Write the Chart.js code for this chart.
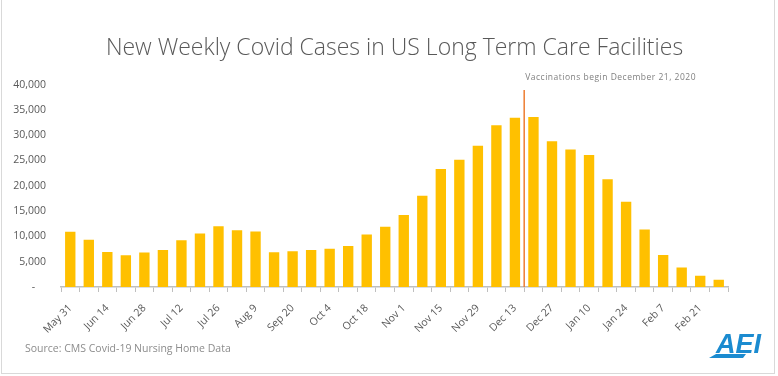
<!DOCTYPE html>
<html>
<head>
<meta charset="utf-8">
<script src="https://cdn.jsdelivr.net/npm/chart.js@4.4.1/dist/chart.umd.min.js"></script>
<style>
  html, body { margin: 0; padding: 0; background: #fff; }
  #wrap { position: relative; width: 778px; height: 376px; }
</style>
</head>
<body>
<div id="wrap"><canvas id="c" width="778" height="376"></canvas></div>
<script>
const titleText = 'New Weekly Covid Cases in US Long Term Care Facilities';
const sourceText = 'Source: CMS Covid-19 Nursing Home Data';
const noteText = 'Vaccinations begin December 21, 2020';
const weeks = ['May 31','Jun 7','Jun 14','Jun 21','Jun 28','Jul 5','Jul 12','Jul 19','Jul 26','Aug 2','Aug 9','Sep 13',
  'Sep 20','Sep 27','Oct 4','Oct 11','Oct 18','Oct 25','Nov 1','Nov 8','Nov 15','Nov 22','Nov 29','Dec 6',
  'Dec 13','Dec 20','Dec 27','Jan 3','Jan 10','Jan 17','Jan 24','Jan 31','Feb 7','Feb 14','Feb 21','Feb 28'];
const newCases = [10900,9350,6920,6270,6800,7320,9220,10590,12020,11240,10980,6860,
  7060,7320,7580,8100,10390,11900,14250,18040,23330,25160,27900,31960,
  33470,33590,28820,27190,26080,21310,16860,11370,6340,3860,2220,1430];
const yTicks = [0,5000,10000,15000,20000,25000,30000,35000,40000];
const vaccineAfter = 'Dec 13';

const extras = {
  id: 'extras',
  afterDraw(chart) {
    const ctx = chart.ctx;
    const x = chart.scales.x, y = chart.scales.y;
    ctx.save();
    const i = weeks.indexOf(vaccineAfter);
    const lx = (x.getPixelForValue(i) + x.getPixelForValue(i + 1)) / 2;
    ctx.strokeStyle = '#ED7D31';
    ctx.lineWidth = 1.5;
    ctx.beginPath();
    ctx.moveTo(lx, 90);
    ctx.lineTo(lx, y.getPixelForValue(0));
    ctx.stroke();
    ctx.fillStyle = '#808080';
    ctx.font = '8.5px "Open Sans"';
    ctx.letterSpacing = '0.5px';
    ctx.textAlign = 'left';
    ctx.textBaseline = 'middle';
    ctx.fillText(noteText, lx + 1, 78);
    ctx.letterSpacing = '0px';
    ctx.fillStyle = '#8c8c8c';
    ctx.font = '10.5px "Open Sans"';
    ctx.fillText(sourceText, 25, 349);
    ctx.fillStyle = '#1B8BD0';
    ctx.font = 'italic bold 27px "Liberation Sans"';
    ctx.textBaseline = 'alphabetic';
    ctx.fillText('AEI', 716, 353);
    ctx.beginPath();
    ctx.moveTo(716, 354); ctx.lineTo(746, 354); ctx.lineTo(743, 358); ctx.lineTo(709, 358);
    ctx.closePath(); ctx.fill();
    ctx.strokeStyle = '#d9d9d9';
    ctx.lineWidth = 1;
    ctx.strokeRect(1.5, -2, 773, 375.5);
    ctx.restore();
  }
};

new Chart(document.getElementById('c'), {
  type: 'bar',
  data: {
    labels: weeks,
    datasets: [{
      data: newCases,
      backgroundColor: '#FFC000',
      borderWidth: 0,
      barPercentage: 0.56,
      categoryPercentage: 1.0
    }]
  },
  options: {
    responsive: false,
    animation: false,
    events: [],
    layout: { padding: { left: 0, right: 50, top: 0, bottom: 0 } },
    plugins: {
      legend: { display: false },
      tooltip: { enabled: false },
      title: {
        display: true,
        text: titleText,
        fullSize: false,
        color: '#595959',
        font: { family: '"Open Sans"', size: 23, weight: '300' },
        padding: { top: 35, bottom: 22 }
      }
    },
    scales: {
      x: {
        grid: { display: true, drawOnChartArea: false, drawTicks: true, tickLength: 5, color: '#bfbfbf', offset: true },
        border: { display: true, color: '#bfbfbf', width: 1.5 },
        ticks: {
          autoSkip: false,
          maxRotation: 45, minRotation: 45,
          color: '#595959',
          font: { family: '"Open Sans"', size: 10.5 },
          padding: 10,
          callback: function(v, idx) { return idx % 2 === 0 ? weeks[idx] : ''; }
        },
        afterFit(s) { s.height = 89; }
      },
      y: {
        min: 0, max: 40000,
        afterBuildTicks(s) { s.ticks = yTicks.map(v => ({ value: v })); },
        grid: { display: false, drawTicks: false, tickLength: 0 },
        border: { display: false },
        ticks: {
          color: '#595959',
          font: { family: '"Open Sans"', size: 10.5 },
          padding: 15,
          callback: function(v) { return v === 0 ? '-    ' : v.toLocaleString('en-US'); }
        },
        afterFit(s) { s.width = 61; }
      }
    }
  },
  plugins: [extras]
});
</script>
</body>
</html>
